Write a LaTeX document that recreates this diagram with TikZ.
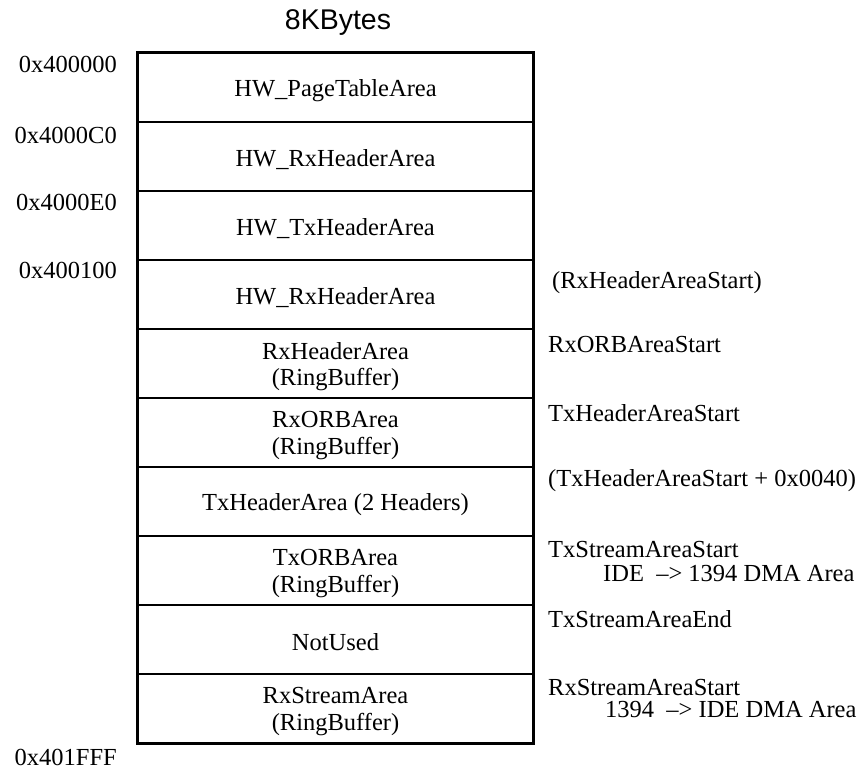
\documentclass[tikz,border=0pt]{standalone}
\usepackage{fontspec}
\setmainfont{Liberation Serif}
\newfontfamily\headfont{Liberation Sans}
\begin{document}
\begin{tikzpicture}[x=1pt,y=-1pt,
  cell/.style={draw,line width=1.1pt,minimum width=395pt,minimum height=69pt,inner sep=0pt},
  celltext/.style={inner sep=0pt,align=center,font=\fontsize{24.5}{26.5}\selectfont},
  addr/.style={anchor=base east,inner sep=0pt,font=\fontsize{24.5}{26.5}\selectfont},
  ptrlabel/.style={anchor=base west,inner sep=0pt,font=\fontsize{24.5}{26.5}\selectfont}]
\useasboundingbox (0,0) rectangle (862,769);
\node[font=\headfont\fontsize{28.5}{31}\selectfont,inner sep=0pt] (title) at (338,23) {8KBytes};
\foreach \i in {1,...,10}{
  \node[cell] (c\i) at (335.5,{18.5+69*\i}) {};
}
\node[celltext] (t1) at ([yshift=-3pt]c1.center) {HW\_PageTableArea};
\node[celltext] (t2) at ([yshift=-3pt]c2.center) {HW\_RxHeaderArea};
\node[celltext] (t3) at ([yshift=-3pt]c3.center) {HW\_TxHeaderArea};
\node[celltext] (t4) at ([yshift=-3pt]c4.center) {HW\_RxHeaderArea};
\node[celltext] (t5) at ([yshift=-3pt]c5.center) {RxHeaderArea\\(RingBuffer)};
\node[celltext] (t6) at ([yshift=-3pt]c6.center) {RxORBArea\\(RingBuffer)};
\node[celltext] (t7) at ([yshift=-3pt]c7.center) {TxHeaderArea (2 Headers)};
\node[celltext] (t8) at ([yshift=-3pt]c8.center) {TxORBArea\\(RingBuffer)};
\node[celltext] (t9) at ([yshift=-3pt]c9.center) {NotUsed};
\node[celltext] (t10) at ([yshift=-3pt]c10.center) {RxStreamArea\\(RingBuffer)};
\draw[line width=2.5pt] (c1.north west) rectangle (c10.south east);
\node[addr] (a1) at (117,72) {0x400000};
\node[addr] (a2) at (117,143) {0x4000C0};
\node[addr] (a3) at (117,210) {0x4000E0};
\node[addr] (a4) at (117,278) {0x400100};
\node[addr] (a5) at (117,765) {0x401FFF};
\node[ptrlabel] (m1) at (552,288) {(RxHeaderAreaStart)};
\node[ptrlabel] (m2) at (548,352) {RxORBAreaStart};
\node[ptrlabel] (m3) at (548,421) {TxHeaderAreaStart};
\node[ptrlabel] (m4) at (548,486) {(TxHeaderAreaStart + 0x0040)};
\node[ptrlabel] (m5) at (548,557) {TxStreamAreaStart};
\node[ptrlabel] (m6) at (603,581) {IDE~~–>~1394 DMA Area};
\node[ptrlabel] (m7) at (548,627) {TxStreamAreaEnd};
\node[ptrlabel] (m8) at (548,695) {RxStreamAreaStart};
\node[ptrlabel] (m9) at (605,717) {1394~~–>~IDE DMA Area};
\end{tikzpicture}
\end{document}
